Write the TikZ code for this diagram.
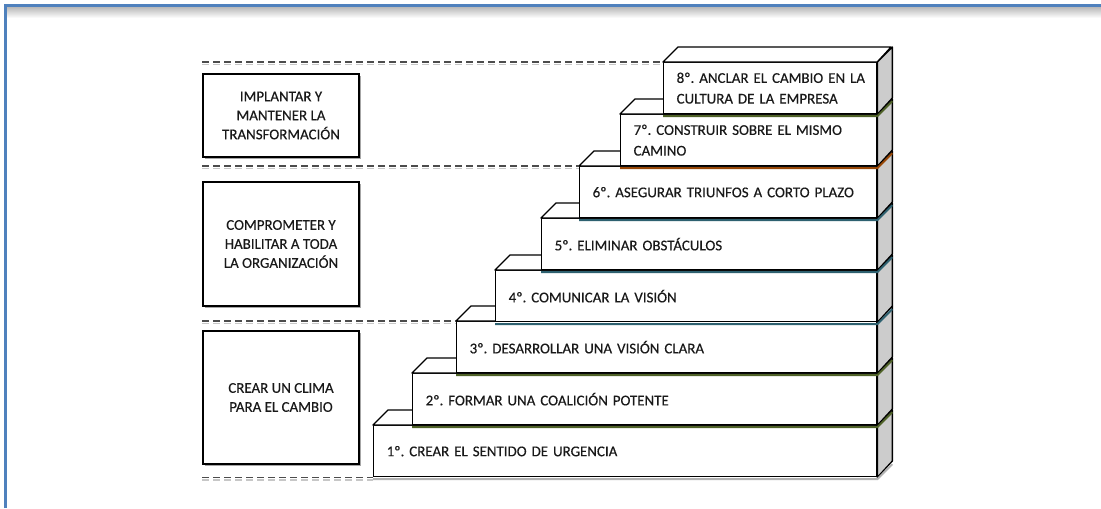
\documentclass[tikz,border=0pt]{standalone}
\usepackage{fontspec}
\setmainfont{Carlito}
\newfontfamily\stepfont{Carlito}[FakeBold=0.3]
\usetikzlibrary{shadows}

\definecolor{frameblue}{HTML}{4F81BD}
\definecolor{jointolive}{HTML}{4F6228}
\definecolor{jointbrown}{HTML}{984807}
\definecolor{jointteal}{HTML}{2E6170}

\tikzset{
  stepbox/.style={draw, line width=1pt, fill=white, anchor=north west, inner xsep=9.75pt, inner ysep=0pt,
    minimum height=38.25pt, align=left, text=black!90, font=\stepfont\fontsize{11.2}{15.5}\selectfont},
  topface/.style={draw, line width=1pt, fill=white, line join=round},
  sideface/.style={draw, line width=1pt, fill=black!20, line join=round},
  joint/.style={line width=1.5pt},
  phasebox/.style={draw, line width=1pt, fill=white, minimum width=117pt, align=center, text=black!90,
    font=\stepfont\fontsize{11.2}{14.25}\selectfont, drop shadow={shadow xshift=1.2pt, shadow yshift=-1.2pt, fill=black!50, opacity=0.7}},
  divider/.style={draw=black!70, line width=1.2pt, dash pattern=on 5.25pt off 3pt},
  dividershadow/.style={draw=black!22, line width=1.2pt, dash pattern=on 5.25pt off 3pt, transform canvas={yshift=-1.8pt}},
}

\begin{document}
\frenchspacing
\begin{tikzpicture}[x=0.75pt,y=-0.75pt]
\useasboundingbox (0,0) rectangle (1101,508);

%Frame
\shade[top color=black!30, bottom color=white] (5,6) rectangle (1101,18);
\draw[frameblue, line width=2.25pt] (5,508) -- (5,5) -- (1101,5);

%Phase boxes
\node[phasebox, minimum height=62.25pt] (implantar) at (281,115.5) {IMPLANTAR Y\\MANTENER LA\\TRANSFORMACIÓN};
\node[phasebox, minimum height=93pt] (comprometer) at (281,244) {COMPROMETER Y\\HABILITAR A TODA\\LA ORGANIZACIÓN};
\node[phasebox, minimum height=99.75pt] (clima) at (281,397.5) {CREAR UN CLIMA\\PARA EL CAMBIO};

%Steps, bottom one first
\foreach \i/\sx/\sy/\col/\txt in {
  1/373/425/black!30/{1º. CREAR EL SENTIDO DE URGENCIA},
  2/412/373/jointolive/{2º. FORMAR UNA COALICIÓN POTENTE},
  3/456/321/jointolive/{3º. DESARROLLAR UNA VISIÓN CLARA},
  4/495/270/jointteal/{4º. COMUNICAR LA VISIÓN},
  5/541/218/jointteal/{5º. ELIMINAR OBSTÁCULOS},
  6/579/166/jointteal/{6º. ASEGURAR TRIUNFOS A CORTO PLAZO},
  7/620/114/jointbrown/{\mbox{7º. CONSTRUIR SOBRE EL MISMO}\\CAMINO},
  8/663/62/jointolive/{\mbox{8º. ANCLAR EL CAMBIO EN LA}\\CULTURA DE LA EMPRESA}}{
  \pgfmathsetmacro\w{(876-\sx)*0.75}
  \pgfmathsetmacro\tw{(876-\sx-26)*0.75}
  \node[stepbox, minimum width=\w pt, text width=\tw pt] (s\i) at (\sx,\sy) {\txt};
  \draw[topface] (s\i.north west) -- ++(15,-15) -- ++(876-\sx,0) -- (s\i.north east) -- cycle;
  \draw[sideface] (s\i.north east) -- ++(15,-15) -- ++(0,51) -- (s\i.south east) -- cycle;
  \draw[joint, \col] ([yshift=-1.4pt]s\i.south west) -- ([yshift=-1.4pt]s\i.south east) -- ++(15,-15);
}

%Dashed dividers
\foreach \a/\b in {s8.north west/implantar, s6.north west/implantar, s3.north west/clima, s1.south west/clima}{
  \draw[dividershadow] (\b.west |- \a) -- (\a);
  \draw[divider] (\b.west |- \a) -- (\a);
}

\end{tikzpicture}
\end{document}
